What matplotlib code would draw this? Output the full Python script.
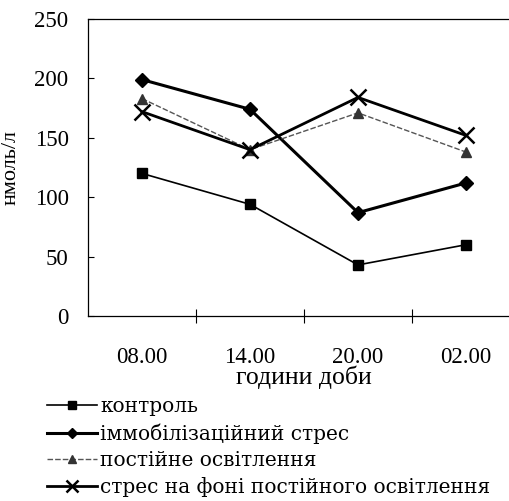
import numpy as np
import matplotlib.pyplot as plt

plt.rcParams['font.family'] = ['Liberation Serif', 'DejaVu Serif']

hours = ['08.00', '14.00', '20.00', '02.00']
control = [120, 94, 43, 60]
immob_stress = [199, 174, 87, 112]
const_light = [183, 140, 171, 138]
stress_light = [172, 140, 184, 152]

x = np.arange(len(hours))

fig = plt.figure(figsize=(5.09, 5.01), dpi=100)
ax = fig.add_axes([88/509, 1 - 316/501, 432/509, 297/501])

ax.plot(x, control, color='black', lw=1.2, marker='s', ms=7, label='контроль')
ax.plot(x, immob_stress, color='black', lw=2.2, marker='D', ms=7, label='іммобілізаційний стрес')
ax.plot(x, const_light, color='#555555', lw=1.0, ls=(0, (4, 1.5)), marker='^', ms=7,
        mfc='#333333', mec='#333333', label='постійне освітлення')
ax.plot(x, stress_light, color='black', lw=2.0, marker='x', ms=11, mew=1.8,
        label='стрес на фоні постійного освітлення')

ax.set_xlim(-0.5, 3.5)
ax.set_ylim(0, 250)
ax.set_yticks([0, 50, 100, 150, 200, 250])
ax.set_xticks(x)
ax.set_xticklabels(hours)
ax.set_xticks(np.arange(0.5, 3.5, 1), minor=True)
ax.tick_params(axis='x', which='major', length=0, pad=22, labelsize=16.5)
ax.tick_params(axis='x', which='minor', direction='inout', length=10, width=0.8)
ax.tick_params(axis='y', direction='in', length=4, width=0.8, pad=14, labelsize=16.5)
for s in ax.spines.values():
    s.set_linewidth(0.9)
ax.spines['right'].set_visible(False)

ax.set_ylabel('нмоль/л', fontsize=16, labelpad=10)
ax.set_xlabel('години доби', fontsize=18.5)
ax.xaxis.set_label_coords(0.5, -0.165)

fig.legend(loc='upper left', bbox_to_anchor=(39/509, 1 - 389/501), frameon=False,
           prop={'family': 'DejaVu Serif', 'size': 14.5}, handlelength=2.5,
           handletextpad=0.15, labelspacing=0.36, borderaxespad=0, markerscale=0.8)

fig.savefig('out.png', dpi=100)
